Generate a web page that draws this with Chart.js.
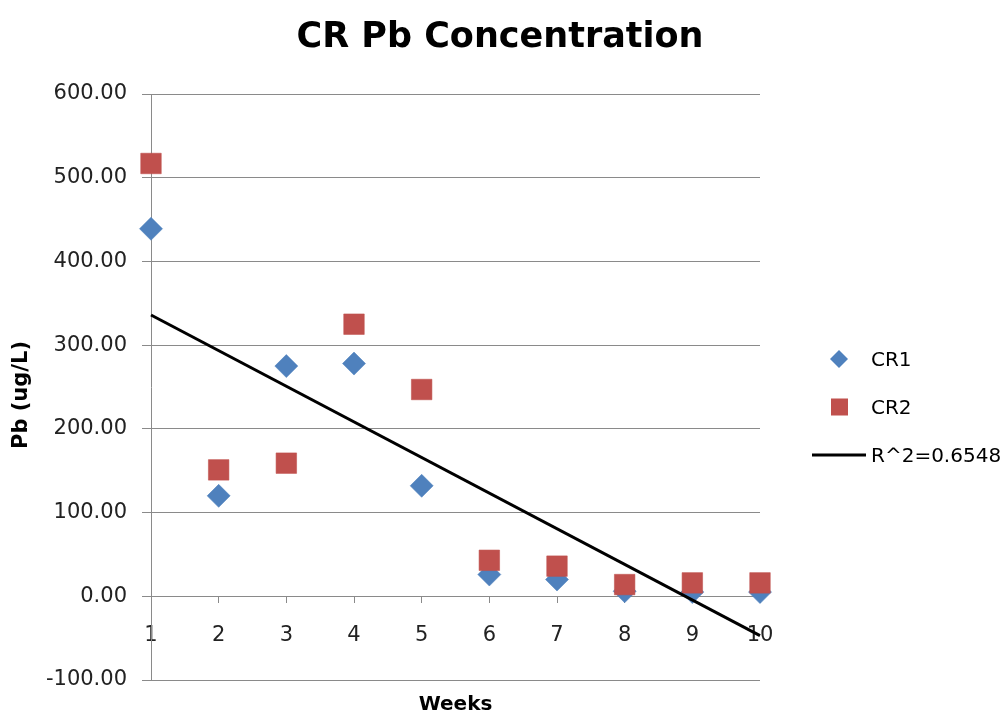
<!DOCTYPE html>
<html>
<head>
<meta charset="utf-8">
<title>CR Pb Concentration</title>
<script src="https://cdn.jsdelivr.net/npm/chart.js@4.4.1/dist/chart.umd.min.js"></script>
<style>
  html, body { margin: 0; padding: 0; background: #ffffff; }
  #wrap { width: 1005px; height: 717px; }
</style>
</head>
<body>
<div id="wrap"><canvas id="chart" width="1005" height="717"></canvas></div>
<script>
// Weekly lead readings (ug/L) for the two CR sampling points
const weeks = [1, 2, 3, 4, 5, 6, 7, 8, 9, 10];
const cr1 = [439, 120, 275, 278, 132, 26, 20, 6, 5, 5];
const cr2 = [517, 151, 159, 325, 247, 43, 36, 14, 16, 16];

// Linear trend line end points (week, value)
const trendWeeks = [1, 10];
const trendValues = [336, -47];

// Axis ranges and text
const yMin = -100, yMax = 600, yStep = 100;
const xMin = 1, xMax = 10, xStep = 1;
const titleText = 'CR Pb Concentration';
const xTitle = 'Weeks';
const yTitle = 'Pb (ug/L)';
const seriesNames = ['CR1', 'CR2', 'R^2=0.6548'];

const FONT = '"DejaVu Sans", sans-serif';
const GRID = '#8a8a8a';
const BLUE = '#4F81BD';
const RED = '#C0504D';

const toPoints = (xs, ys) => xs.map((x, i) => ({ x: x, y: ys[i] }));

// Title, axis titles and the legend block at the right
const decor = {
  id: 'decor',
  afterDraw(chart) {
    const ctx = chart.ctx;
    const area = chart.chartArea;
    ctx.save();
    ctx.fillStyle = '#000';
    ctx.textAlign = 'center';
    ctx.textBaseline = 'alphabetic';

    ctx.font = 'bold 35px ' + FONT;
    ctx.fillText(titleText, 500, 47);

    ctx.font = 'bold 20px ' + FONT;
    ctx.fillText(xTitle, (area.left + area.right) / 2, 710);

    ctx.save();
    ctx.translate(27, 395);
    ctx.rotate(-Math.PI / 2);
    ctx.font = 'bold 21px ' + FONT;
    ctx.fillText(yTitle, 0, 0);
    ctx.restore();

    // legend
    const ds = chart.data.datasets;
    const rows = [359, 407, 455];
    const mx = 839;
    ctx.textAlign = 'left';
    ctx.font = '20px ' + FONT;

    // diamond
    ctx.fillStyle = ds[0].backgroundColor;
    ctx.beginPath();
    ctx.moveTo(mx - 9, rows[0]);
    ctx.lineTo(mx, rows[0] - 9);
    ctx.lineTo(mx + 9, rows[0]);
    ctx.lineTo(mx, rows[0] + 9);
    ctx.closePath();
    ctx.fill();

    // square
    ctx.fillStyle = ds[1].backgroundColor;
    ctx.fillRect(mx - 8, rows[1] - 8.5, 17, 17);

    // line
    ctx.strokeStyle = ds[2].borderColor;
    ctx.lineWidth = 3;
    ctx.beginPath();
    ctx.moveTo(812, rows[2]);
    ctx.lineTo(866, rows[2]);
    ctx.stroke();

    ctx.fillStyle = '#000';
    ds.forEach((d, i) => ctx.fillText(d.label, 871, rows[i] + 7));
    ctx.restore();
  }
};

new Chart(document.getElementById('chart'), {
  type: 'scatter',
  data: {
    datasets: [
      {
        label: seriesNames[0],
        data: toPoints(weeks, cr1),
        pointStyle: 'rectRot',
        pointRadius: 11.5,
        pointHoverRadius: 11.5,
        backgroundColor: BLUE,
        borderColor: 'rgba(79,129,189,0.55)',
        borderWidth: 1,
        clip: false,
        order: 2
      },
      {
        label: seriesNames[1],
        data: toPoints(weeks, cr2),
        pointStyle: 'rect',
        pointRadius: 14.5,
        pointHoverRadius: 14.5,
        backgroundColor: RED,
        borderColor: 'rgba(192,80,77,0.55)',
        borderWidth: 1,
        clip: false,
        order: 1
      },
      {
        label: seriesNames[2],
        type: 'line',
        data: toPoints(trendWeeks, trendValues),
        showLine: true,
        pointRadius: 0,
        pointHoverRadius: 0,
        borderColor: '#000000',
        borderWidth: 3,
        fill: false,
        clip: false,
        order: 0
      }
    ]
  },
  options: {
    responsive: false,
    animation: false,
    devicePixelRatio: 1,
    events: [],
    layout: { padding: { top: 94, right: 245, bottom: 37, left: 0 } },
    plugins: {
      legend: { display: false },
      title: { display: false },
      tooltip: { enabled: false }
    },
    scales: {
      x: {
        type: 'linear',
        position: { y: 0 },
        min: xMin,
        max: xMax,
        ticks: {
          stepSize: xStep,
          maxRotation: 0,
          autoSkip: false,
          padding: 20,
          color: '#222',
          font: { family: FONT, size: 21 }
        },
        grid: {
          display: true,
          drawOnChartArea: false,
          drawTicks: true,
          tickLength: 7,
          color: GRID,
          lineWidth: 1
        },
        border: { display: false }
      },
      y: {
        type: 'linear',
        position: 'left',
        min: yMin,
        max: yMax,
        afterFit(scale) { scale.width = 151; },
        ticks: {
          stepSize: yStep,
          padding: 15,
          color: '#222',
          font: { family: FONT, size: 21 },
          callback: (v) => Number(v).toFixed(2)
        },
        grid: {
          color: GRID,
          lineWidth: 1,
          drawTicks: true,
          tickLength: 9
        },
        border: { display: true, color: GRID, width: 1 }
      }
    }
  },
  plugins: [decor]
});
</script>
</body>
</html>
